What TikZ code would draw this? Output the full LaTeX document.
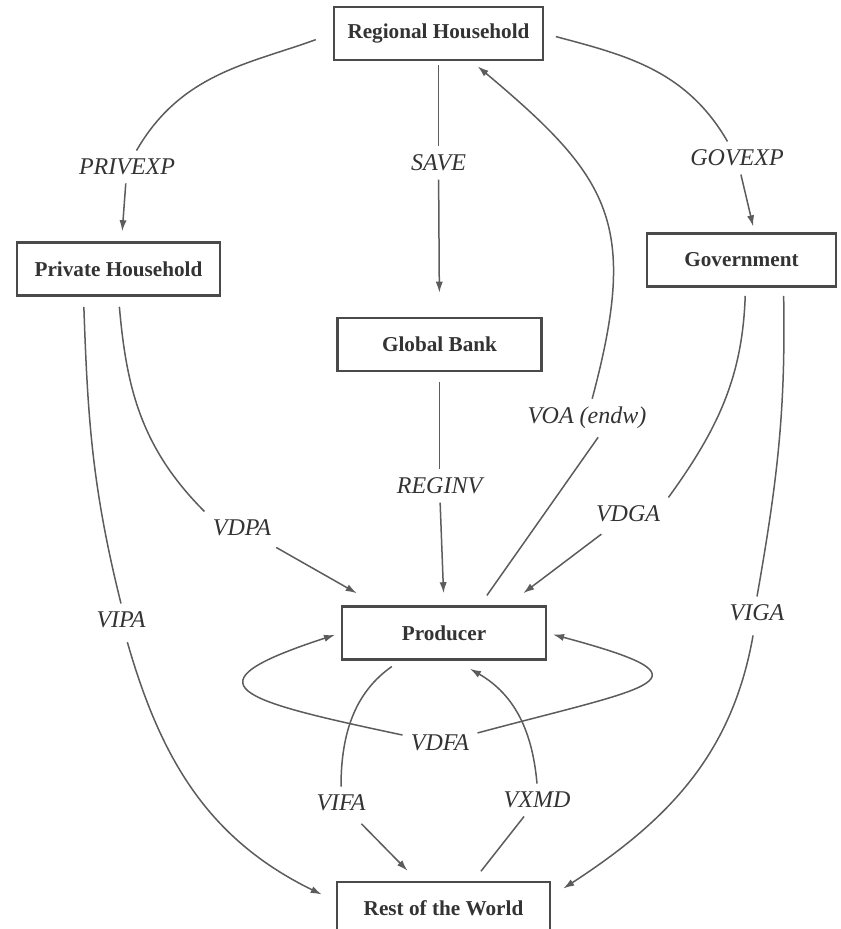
\documentclass[tikz,border=0pt]{standalone}
\usepackage{fontspec}
\setmainfont{Liberation Serif}
\usepackage{tikz}
\usetikzlibrary{arrows.meta}

\definecolor{boxgray}{HTML}{4A4A4A}
\definecolor{linegray}{HTML}{5C5C5C}
\definecolor{txtgray}{HTML}{333333}

\tikzset{
    agent/.style={draw=boxgray, line width=1.3pt, minimum width=102pt, minimum height=26.5pt,
        inner sep=2pt, text=txtgray, font=\fontsize{10.6}{12.5}\selectfont\bfseries},
    flowlab/.style={text=txtgray, inner sep=4pt, font=\fontsize{12}{14}\selectfont\itshape},
    flow/.style={draw=linegray, line width=0.75pt},
    flowarr/.style={flow, -{Latex[length=5.5pt,width=3.6pt]}}
}

\begin{document}
\begin{tikzpicture}[x=0.5pt, y=0.5pt]
    \useasboundingbox (0,0) rectangle (840,-929);

    % Agents
    \node[agent, minimum width=104.5pt] (reg) at (438.5,-33.5) {Regional Household};
    \node[agent, minimum width=101.5pt] (priv) at (118.5,-269) {Private Household};
    \node[agent, minimum width=94.5pt] (gov) at (741.5,-260) {Government};
    \node[agent] (bank) at (439.5,-344.5) {Global Bank};
    \node[agent] (prod) at (444,-633) {Producer};
    \node[agent, minimum width=106.5pt] (row) at (443.5,-908.5) {Rest of the World};

    % Flow labels
    \node[flowlab] (privexp) at (127,-167) {PRIVEXP};
    \node[flowlab] (govexp) at (737,-158) {GOVEXP};
    \node[flowlab] (save) at (438.5,-163) {SAVE};
    \node[flowlab] (reginv) at (439.5,-486) {REGINV};
    \node[flowlab] (voa) at (587,-418) {VOA (endw)};
    \node[flowlab] (vdga) at (628,-514) {VDGA};
    \node[flowlab] (vdpa) at (242,-528) {VDPA};
    \node[flowlab] (viga) at (757,-613) {VIGA};
    \node[flowlab] (vipa) at (121,-620) {VIPA};
    \node[flowlab] (vdfa) at (440,-743) {VDFA};
    \node[flowlab] (vifa) at (341,-803) {VIFA};
    \node[flowlab] (vxmd) at (537,-800) {VXMD};

    % Regional household spending
    \draw[flow, shorten <=9pt] (reg.west) to[out=200,in=60] (privexp);
    \draw[flowarr, shorten >=5pt] (privexp) -- ([xshift=1.5pt]priv.north);
    \draw[flow, shorten <=6pt] (reg.east) to[out=-15,in=120] (govexp);
    \draw[flowarr, shorten >=3pt] (govexp) -- ([xshift=6.5pt]gov.north);

    % Savings and investment
    \draw[flow, shorten <=2pt] (reg.south) -- (save);
    \draw[flowarr, shorten >=12pt] (save) -- (bank.north);
    \draw[flow, shorten <=5pt] (bank.south) -- (reginv);
    \draw[flowarr, shorten >=6pt] (reginv) -- (prod.north);

    % Value of output
    \draw[flow, shorten <=6pt] ([xshift=18pt]prod.north) -- (voa.-60);
    \draw[flowarr, shorten >=4pt] (voa) to[out=75,in=-40,looseness=1.3] (reg);

    % Domestic purchases
    \draw[flow, shorten <=4pt] ([xshift=2pt]gov.south) to[out=-92,in=54] (vdga.north east);
    \draw[flowarr, shorten <=3pt] (vdga) -- ([xshift=-12pt,yshift=6pt]prod.north east);
    \draw[flow, shorten <=5pt] (priv.south) to[out=-85,in=135] (vdpa.north west);
    \draw[flowarr, shorten <=3pt] (vdpa) -- ([xshift=8pt,yshift=6pt]prod.north west);

    % Imports
    \draw[flow, shorten <=4pt] ([xshift=21pt]gov.south) to[out=-89,in=80] (viga.north);
    \draw[flowarr, shorten <=3pt] (viga) to[out=-100,in=33] ([xshift=6pt,yshift=10pt]row.east);
    \draw[flow, shorten <=5pt] ([xshift=-17.5pt]priv.south) to[out=-88,in=104] (vipa.north);
    \draw[flowarr, shorten <=3pt] (vipa) to[out=-74,in=154] ([xshift=-7pt,yshift=7pt]row.west);

    % Intermediate flows
    \draw[flowarr, shorten >=3pt] (vdfa) to[out=168,in=198,looseness=3.6] (prod.west);
    \draw[flowarr, shorten >=3pt] (vdfa) to[out=15,in=-15,looseness=3.8] (prod.east);
    \draw[flow, shorten <=5pt] ([xshift=-22pt]prod.south) to[out=215,in=90] (vifa.north);
    \draw[flowarr, shorten <=3pt] (vifa) -- ([xshift=-18pt,yshift=5pt]row.north);
    \draw[flow, shorten <=6pt] ([xshift=15pt]row.north) -- (vxmd);
    \draw[flowarr] (vxmd.north) to[out=95,in=-30] ([xshift=13pt,yshift=-4pt]prod.south);
\end{tikzpicture}
\end{document}
